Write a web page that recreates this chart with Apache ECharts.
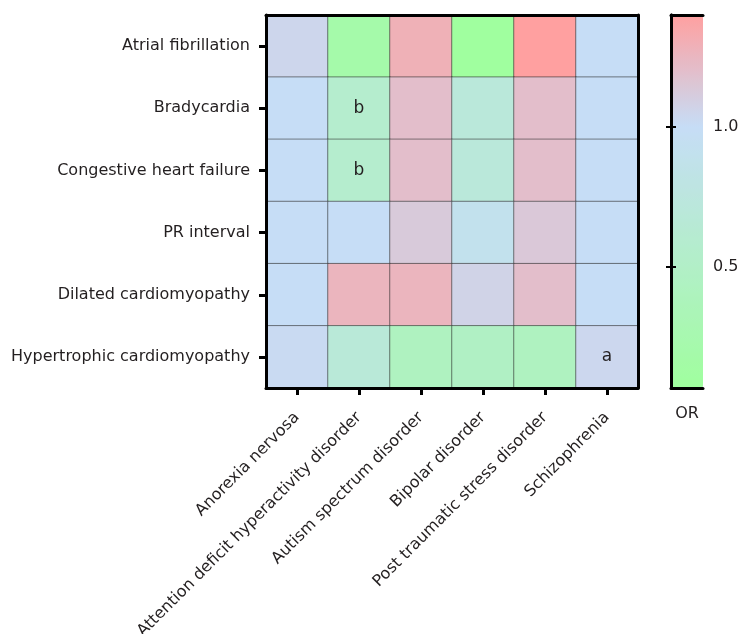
<!DOCTYPE html>
<html><head><meta charset="utf-8">
<script src="https://cdn.jsdelivr.net/npm/echarts@6/dist/echarts.min.js"></script>
<style>html,body{margin:0;padding:0;background:#fff}#c{width:741px;height:634px}</style>
</head><body><div id="c"></div>
<script>
// ---- data ----
const disorders = ['Anorexia nervosa', 'Attention deficit hyperactivity disorder', 'Autism spectrum disorder', 'Bipolar disorder', 'Post traumatic stress disorder', 'Schizophrenia'];
const outcomes = ['Atrial fibrillation', 'Bradycardia', 'Congestive heart failure', 'PR interval', 'Dilated cardiomyopathy', 'Hypertrophic cardiomyopathy'];
// OR per outcome, in the order of `disorders`
const atrialFibrillation   = [1.05, 0.19, 1.29, 0.08, 1.40, 1.00];
const bradycardia          = [1.00, 0.58, 1.20, 0.70, 1.20, 1.00];
const congestiveHeartFail  = [1.00, 0.58, 1.20, 0.70, 1.20, 1.00];
const prInterval           = [1.00, 1.00, 1.13, 0.90, 1.14, 1.00];
const dilatedCardiomyo     = [1.00, 1.26, 1.26, 1.07, 1.20, 1.00];
const hypertrophicCardio   = [1.02, 0.68, 0.43, 0.47, 0.43, 1.04];
const rows = [atrialFibrillation, bradycardia, congestiveHeartFail, prInterval, dilatedCardiomyo, hypertrophicCardio];
const notes = [
  ['Attention deficit hyperactivity disorder', 'Bradycardia', 'b'],
  ['Attention deficit hyperactivity disorder', 'Congestive heart failure', 'b'],
  ['Schizophrenia', 'Hypertrophic cardiomyopathy', 'a']
];
const orMin = 0.068, orMax = 1.4;
const colorbarTicks = [0.5, 1.0];
const colorbarTitle = 'OR';

// ---- build ----
const cells = [];
rows.forEach((r, yi) => r.forEach((v, xi) => cells.push([xi, yi, v])));
const noteOf = (xi, yi) => {
  const n = notes.find(n => n[0] === disorders[xi] && n[1] === outcomes[yi]);
  return n ? n[2] : '';
};
// colour ramp: green -> light blue at OR=1 -> salmon
const cGreen = [160, 255, 158], cBlue = [198, 221, 246], cRed = [255, 160, 160];
function mix(a, b, t) { return 'rgb(' + a.map((x, i) => Math.round(x + (b[i] - x) * t)).join(',') + ')'; }
const stops = [];
const N = 41;
for (let i = 0; i < N; i++) {
  const v = orMin + (orMax - orMin) * i / (N - 1);
  stops.push(v <= 1 ? mix(cGreen, cBlue, (v - orMin) / (1 - orMin)) : mix(cBlue, cRed, (v - 1) / (orMax - 1)));
}
const txt = '#231f20';
const font = 'DejaVu Sans';
const frame = { show: true, lineStyle: { color: '#000', width: 3 } };

const chart = echarts.init(document.getElementById('c'));
chart.setOption({
  animation: false,
  textStyle: { fontFamily: font, color: txt },
  grid: [
    { left: 266, right: 103, top: 15, bottom: 246, containLabel: false, outerBoundsMode: 'none' },
    { left: 671, width: 32, top: 15, height: 373, containLabel: false, outerBoundsMode: 'none' }
  ],
  xAxis: [
    { type: 'category', data: disorders, gridIndex: 0, z: 10, axisLine: frame,
      axisTick: { show: true, alignWithLabel: true, length: 7, lineStyle: { color: '#000', width: 3 } },
      axisLabel: { rotate: 45, margin: 27, fontSize: 16, color: txt, fontFamily: font, interval: 0 },
      splitLine: { show: false } },
    { type: 'category', data: disorders, gridIndex: 0, position: 'top', z: 10, axisLine: frame,
      axisTick: { show: false }, axisLabel: { show: false } },
    { type: 'value', gridIndex: 1, min: 0, max: 1, position: 'bottom', z: 10, axisLine: frame,
      axisTick: { show: false }, axisLabel: { show: false }, splitLine: { show: false },
      name: colorbarTitle, nameLocation: 'middle', nameGap: 18,
      nameTextStyle: { fontSize: 16, color: txt, fontFamily: font } },
    { type: 'value', gridIndex: 1, min: 0, max: 1, position: 'top', z: 10, axisLine: frame,
      axisTick: { show: false }, axisLabel: { show: false }, splitLine: { show: false } }
  ],
  yAxis: [
    { type: 'category', data: outcomes, inverse: true, gridIndex: 0, z: 10, axisLine: frame,
      axisTick: { show: true, alignWithLabel: true, length: 7, lineStyle: { color: '#000', width: 3 } },
      axisLabel: { margin: 16, fontSize: 16, color: txt, fontFamily: font, interval: 0 },
      splitLine: { show: false } },
    { type: 'category', data: outcomes, inverse: true, gridIndex: 0, position: 'right', z: 10, axisLine: frame,
      axisTick: { show: false }, axisLabel: { show: false } },
    { type: 'value', gridIndex: 1, min: orMin, max: orMax, position: 'left', z: 10, axisLine: frame,
      axisTick: { show: true, inside: true, length: 5, customValues: colorbarTicks, lineStyle: { color: '#000', width: 2 } },
      axisLabel: { show: false }, splitLine: { show: false } },
    { type: 'value', gridIndex: 1, min: orMin, max: orMax, position: 'right', z: 10, axisLine: frame,
      axisTick: { show: true, inside: true, length: 5, customValues: colorbarTicks, lineStyle: { color: '#000', width: 2 } },
      axisLabel: { show: true, inside: false, margin: 10, fontSize: 16, color: txt, fontFamily: font,
        customValues: colorbarTicks, formatter: v => v.toFixed(1) },
      splitLine: { show: false } }
  ],
  visualMap: {
    type: 'continuous', min: orMin, max: orMax, seriesIndex: 0,
    left: 671, top: 15, itemWidth: 32, itemHeight: 373, padding: 0,
    text: null, showLabel: false, calculable: false, realtime: false, hoverLink: false,
    inRange: { color: stops }
  },
  series: [{
    type: 'heatmap', xAxisIndex: 0, yAxisIndex: 0, data: cells, z: 2,
    itemStyle: { borderColor: 'rgba(40,40,40,0.55)', borderWidth: 1 },
    label: { show: true, fontSize: 17, color: txt, fontFamily: font,
      formatter: p => noteOf(p.value[0], p.value[1]) },
    emphasis: { disabled: true }
  }]
});
</script></body></html>
